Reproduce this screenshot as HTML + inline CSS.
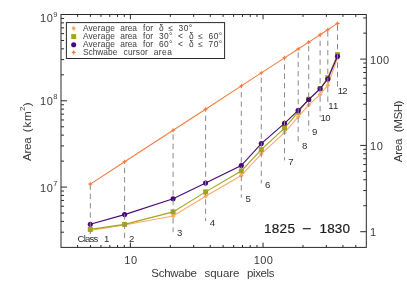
<!DOCTYPE html>
<html><head><meta charset="utf-8"><title>chart</title><style>html,body{margin:0;padding:0;background:#fff}</style></head><body>
<svg width="407" height="291" viewBox="0 0 407 291" style="display:block;will-change:transform;font-family:'Liberation Sans',sans-serif">
<rect width="407" height="291" fill="#fff"/>
<polyline points="90.3,230.5 124.6,225.0 173.1,216.0 205.6,196.3 241.3,175.5 261.3,153.9 284.5,132.7 298.2,116.8 308.7,104.9 320.1,94.6 327.8,85.3 337.5,58.0" fill="none" stroke="#fdab6a" stroke-width="1.1"/>
<path d="M87.89999999999999,230.5L90.3,228.1L92.7,230.5L90.3,232.9Z" fill="#fdab6a"/>
<path d="M122.19999999999999,225.0L124.6,222.6L127.0,225.0L124.6,227.4Z" fill="#fdab6a"/>
<path d="M170.7,216.0L173.1,213.6L175.5,216.0L173.1,218.4Z" fill="#fdab6a"/>
<path d="M203.2,196.3L205.6,193.9L208.0,196.3L205.6,198.70000000000002Z" fill="#fdab6a"/>
<path d="M238.9,175.5L241.3,173.1L243.70000000000002,175.5L241.3,177.9Z" fill="#fdab6a"/>
<path d="M258.90000000000003,153.9L261.3,151.5L263.7,153.9L261.3,156.3Z" fill="#fdab6a"/>
<path d="M282.1,132.7L284.5,130.29999999999998L286.9,132.7L284.5,135.1Z" fill="#fdab6a"/>
<path d="M295.8,116.8L298.2,114.39999999999999L300.59999999999997,116.8L298.2,119.2Z" fill="#fdab6a"/>
<path d="M306.3,104.9L308.7,102.5L311.09999999999997,104.9L308.7,107.30000000000001Z" fill="#fdab6a"/>
<path d="M317.70000000000005,94.6L320.1,92.19999999999999L322.5,94.6L320.1,97.0Z" fill="#fdab6a"/>
<path d="M325.40000000000003,85.3L327.8,82.89999999999999L330.2,85.3L327.8,87.7Z" fill="#fdab6a"/>
<path d="M335.1,58.0L337.5,55.6L339.9,58.0L337.5,60.4Z" fill="#fdab6a"/>
<polyline points="90.3,229.4 124.6,224.4 173.1,211.9 205.6,191.9 241.3,171.0 261.3,149.6 284.5,128.1 298.2,112.2 308.7,99.3 320.1,88.6 327.8,77.8 337.5,54.6" fill="none" stroke="#a5a41c" stroke-width="1.1"/>
<rect x="87.8" y="226.9" width="5.0" height="5.0" fill="#a5a41c"/>
<rect x="122.1" y="221.9" width="5.0" height="5.0" fill="#a5a41c"/>
<rect x="170.6" y="209.4" width="5.0" height="5.0" fill="#a5a41c"/>
<rect x="203.1" y="189.4" width="5.0" height="5.0" fill="#a5a41c"/>
<rect x="238.8" y="168.5" width="5.0" height="5.0" fill="#a5a41c"/>
<rect x="258.8" y="147.1" width="5.0" height="5.0" fill="#a5a41c"/>
<rect x="282.0" y="125.6" width="5.0" height="5.0" fill="#a5a41c"/>
<rect x="295.7" y="109.7" width="5.0" height="5.0" fill="#a5a41c"/>
<rect x="306.2" y="96.8" width="5.0" height="5.0" fill="#a5a41c"/>
<rect x="317.6" y="86.1" width="5.0" height="5.0" fill="#a5a41c"/>
<rect x="325.3" y="75.3" width="5.0" height="5.0" fill="#a5a41c"/>
<rect x="335.0" y="52.1" width="5.0" height="5.0" fill="#a5a41c"/>
<polyline points="90.3,224.3 124.6,214.6 173.1,198.7 205.6,183.0 241.3,165.5 261.3,143.6 284.5,123.3 298.2,110.4 308.7,99.6 320.1,88.8 327.8,79.0 337.5,56.3" fill="none" stroke="#47087a" stroke-width="1.1"/>
<circle cx="90.3" cy="224.3" r="2.55" fill="#47087a"/>
<circle cx="124.6" cy="214.6" r="2.55" fill="#47087a"/>
<circle cx="173.1" cy="198.7" r="2.55" fill="#47087a"/>
<circle cx="205.6" cy="183.0" r="2.55" fill="#47087a"/>
<circle cx="241.3" cy="165.5" r="2.55" fill="#47087a"/>
<circle cx="261.3" cy="143.6" r="2.55" fill="#47087a"/>
<circle cx="284.5" cy="123.3" r="2.55" fill="#47087a"/>
<circle cx="298.2" cy="110.4" r="2.55" fill="#47087a"/>
<circle cx="308.7" cy="99.6" r="2.55" fill="#47087a"/>
<circle cx="320.1" cy="88.8" r="2.55" fill="#47087a"/>
<circle cx="327.8" cy="79.0" r="2.55" fill="#47087a"/>
<circle cx="337.5" cy="56.3" r="2.55" fill="#47087a"/>
<line x1="90.3" y1="184.1" x2="90.3" y2="234.0" stroke="#8a8a8a" stroke-width="1" stroke-dasharray="5.4 3.9" stroke-dashoffset="9.0"/>
<line x1="124.6" y1="161.8" x2="124.6" y2="242.0" stroke="#8a8a8a" stroke-width="1" stroke-dasharray="5.4 3.9" stroke-dashoffset="3.4"/>
<line x1="173.1" y1="130.3" x2="173.1" y2="232.2" stroke="#8a8a8a" stroke-width="1" stroke-dasharray="5.4 3.9" stroke-dashoffset="5.2"/>
<line x1="205.6" y1="109.2" x2="205.6" y2="221.2" stroke="#8a8a8a" stroke-width="1" stroke-dasharray="5.4 3.9" stroke-dashoffset="2.9"/>
<line x1="241.3" y1="85.9" x2="241.3" y2="197.6" stroke="#8a8a8a" stroke-width="1" stroke-dasharray="5.4 3.9" stroke-dashoffset="3.1"/>
<line x1="261.3" y1="72.9" x2="261.3" y2="183.4" stroke="#8a8a8a" stroke-width="1" stroke-dasharray="5.4 3.9" stroke-dashoffset="4.65"/>
<line x1="284.5" y1="57.9" x2="284.5" y2="160.4" stroke="#8a8a8a" stroke-width="1" stroke-dasharray="5.4 3.9" stroke-dashoffset="2.9"/>
<line x1="298.2" y1="49.0" x2="298.2" y2="144.2" stroke="#8a8a8a" stroke-width="1" stroke-dasharray="5.4 3.9" stroke-dashoffset="5.9"/>
<line x1="308.7" y1="42.1" x2="308.7" y2="130.8" stroke="#8a8a8a" stroke-width="1" stroke-dasharray="5.4 3.9" stroke-dashoffset="5.5"/>
<line x1="320.1" y1="34.7" x2="320.1" y2="117.0" stroke="#8a8a8a" stroke-width="1" stroke-dasharray="5.4 3.9" stroke-dashoffset="3.2"/>
<line x1="327.8" y1="29.7" x2="327.8" y2="104.6" stroke="#8a8a8a" stroke-width="1" stroke-dasharray="5.4 3.9" stroke-dashoffset="7.7"/>
<line x1="337.5" y1="23.4" x2="337.5" y2="89.0" stroke="#8a8a8a" stroke-width="1" stroke-dasharray="5.4 3.9" stroke-dashoffset="7.4"/>
<polyline points="90.3,184.1 124.6,161.8 173.1,130.3 205.6,109.2 241.3,85.9 261.3,72.9 284.5,57.9 298.2,49.0 308.7,42.1 320.1,34.7 327.8,29.7 337.5,23.4" fill="none" stroke="#f97b3c" stroke-width="1.1"/>
<path d="M87.8,184.1L89.5,183.29999999999998L90.3,181.6L91.1,183.29999999999998L92.8,184.1L91.1,184.9L90.3,186.6L89.5,184.9Z" fill="#f97b3c"/>
<path d="M122.1,161.805L123.8,161.005L124.6,159.305L125.39999999999999,161.005L127.1,161.805L125.39999999999999,162.60500000000002L124.6,164.305L123.8,162.60500000000002Z" fill="#f97b3c"/>
<path d="M170.6,130.28L172.29999999999998,129.48L173.1,127.78L173.9,129.48L175.6,130.28L173.9,131.08L173.1,132.78L172.29999999999998,131.08Z" fill="#f97b3c"/>
<path d="M203.1,109.15499999999999L204.79999999999998,108.35499999999999L205.6,106.65499999999999L206.4,108.35499999999999L208.1,109.15499999999999L206.4,109.95499999999998L205.6,111.65499999999999L204.79999999999998,109.95499999999998Z" fill="#f97b3c"/>
<path d="M238.8,85.94999999999999L240.5,85.14999999999999L241.3,83.44999999999999L242.10000000000002,85.14999999999999L243.8,85.94999999999999L242.10000000000002,86.74999999999999L241.3,88.44999999999999L240.5,86.74999999999999Z" fill="#f97b3c"/>
<path d="M258.8,72.94999999999999L260.5,72.14999999999999L261.3,70.44999999999999L262.1,72.14999999999999L263.8,72.94999999999999L262.1,73.74999999999999L261.3,75.44999999999999L260.5,73.74999999999999Z" fill="#f97b3c"/>
<path d="M282.0,57.86999999999999L283.7,57.06999999999999L284.5,55.36999999999999L285.3,57.06999999999999L287.0,57.86999999999999L285.3,58.66999999999999L284.5,60.36999999999999L283.7,58.66999999999999Z" fill="#f97b3c"/>
<path d="M295.7,48.965L297.4,48.165000000000006L298.2,46.465L299.0,48.165000000000006L300.7,48.965L299.0,49.765L298.2,51.465L297.4,49.765Z" fill="#f97b3c"/>
<path d="M306.2,42.140000000000015L307.9,41.34000000000002L308.7,39.640000000000015L309.5,41.34000000000002L311.2,42.140000000000015L309.5,42.94000000000001L308.7,44.640000000000015L307.9,42.94000000000001Z" fill="#f97b3c"/>
<path d="M317.6,34.72999999999999L319.3,33.92999999999999L320.1,32.22999999999999L320.90000000000003,33.92999999999999L322.6,34.72999999999999L320.90000000000003,35.52999999999999L320.1,37.22999999999999L319.3,35.52999999999999Z" fill="#f97b3c"/>
<path d="M325.3,29.724999999999994L327.0,28.924999999999994L327.8,27.224999999999994L328.6,28.924999999999994L330.3,29.724999999999994L328.6,30.524999999999995L327.8,32.224999999999994L327.0,30.524999999999995Z" fill="#f97b3c"/>
<path d="M335.0,23.419999999999987L336.7,22.619999999999987L337.5,20.919999999999987L338.3,22.619999999999987L340.0,23.419999999999987L338.3,24.219999999999988L337.5,25.919999999999987L336.7,24.219999999999988Z" fill="#f97b3c"/>
<rect x="61.0" y="14.5" width="305.3" height="232.9" fill="none" stroke="#2a2a2a" stroke-width="1"/>
<path d="M77.58,247.4v-2.4M77.58,14.5v2.4M90.43,247.4v-2.4M90.43,14.5v2.4M100.94,247.4v-2.4M100.94,14.5v2.4M109.82,247.4v-2.4M109.82,14.5v2.4M117.52,247.4v-2.4M117.52,14.5v2.4M124.30,247.4v-2.4M124.30,14.5v2.4M130.38,247.4v-4.8M130.38,14.5v4.8M170.32,247.4v-2.4M170.32,14.5v2.4M193.68,247.4v-2.4M193.68,14.5v2.4M210.26,247.4v-2.4M210.26,14.5v2.4M223.11,247.4v-2.4M223.11,14.5v2.4M233.62,247.4v-2.4M233.62,14.5v2.4M242.50,247.4v-2.4M242.50,14.5v2.4M250.20,247.4v-2.4M250.20,14.5v2.4M256.98,247.4v-2.4M256.98,14.5v2.4M263.06,247.4v-4.8M263.06,14.5v4.8M303.00,247.4v-2.4M303.00,14.5v2.4M326.36,247.4v-2.4M326.36,14.5v2.4M342.94,247.4v-2.4M342.94,14.5v2.4M355.79,247.4v-2.4M355.79,14.5v2.4M61.0,232.20h3.05M61.0,221.42h3.05M61.0,213.06h3.05M61.0,206.23h3.05M61.0,200.45h3.05M61.0,195.45h3.05M61.0,191.03h3.05M61.0,187.08h6.1M61.0,161.11h3.05M61.0,145.91h3.05M61.0,135.13h3.05M61.0,126.77h3.05M61.0,119.94h3.05M61.0,114.16h3.05M61.0,109.15h3.05M61.0,104.74h3.05M61.0,100.79h6.1M61.0,74.82h3.05M61.0,59.62h3.05M61.0,48.84h3.05M61.0,40.48h3.05M61.0,33.64h3.05M61.0,27.87h3.05M61.0,22.86h3.05M61.0,18.45h3.05M366.3,231.71h-6.1M366.3,205.73h-3.05M366.3,190.54h-3.05M366.3,179.76h-3.05M366.3,171.39h-3.05M366.3,164.56h-3.05M366.3,158.78h-3.05M366.3,153.78h-3.05M366.3,149.36h-3.05M366.3,145.42h-6.1M366.3,119.44h-3.05M366.3,104.24h-3.05M366.3,93.46h-3.05M366.3,85.10h-3.05M366.3,78.27h-3.05M366.3,72.49h-3.05M366.3,67.49h-3.05M366.3,63.07h-3.05M366.3,59.12h-6.1M366.3,33.15h-3.05M366.3,17.95h-3.05" stroke="#2a2a2a" stroke-width="1" fill="none"/>
<rect x="66.4" y="22.6" width="158.2" height="35.9" fill="#fff" stroke="#2a2a2a" stroke-width="1"/>
<path d="M71.3,28.3L73.7,25.900000000000002L76.10000000000001,28.3L73.7,30.7Z" fill="#fdab6a"/>
<rect x="71.2" y="34.1" width="5.0" height="5.0" fill="#a5a41c"/>
<circle cx="73.7" cy="44.7" r="2.55" fill="#47087a"/>
<path d="M71.2,52.4L72.9,51.6L73.7,49.9L74.5,51.6L76.2,52.4L74.5,53.199999999999996L73.7,54.9L72.9,53.199999999999996Z" fill="#f97b3c"/>
<text x="82.9" y="31.0" font-size="8.4" fill="#3a3a3a" text-anchor="start" textLength="32.1" lengthAdjust="spacing">Average</text>
<text x="120.3" y="31.0" font-size="8.4" fill="#3a3a3a" text-anchor="start" textLength="16.7" lengthAdjust="spacing">area</text>
<text x="142.9" y="31.0" font-size="8.4" fill="#3a3a3a" text-anchor="start" textLength="10.2" lengthAdjust="spacing">for</text>
<text x="159" y="31.0" font-size="8.4" fill="#3a3a3a" text-anchor="start" textLength="3.7" lengthAdjust="spacing">δ</text>
<text x="168.6" y="31.0" font-size="8.4" fill="#3a3a3a" text-anchor="start" textLength="5.1" lengthAdjust="spacing">≤</text>
<text x="178.6" y="31.0" font-size="8.4" fill="#3a3a3a" text-anchor="start" textLength="13.6" lengthAdjust="spacing">30°</text>
<text x="82.9" y="39.0" font-size="8.4" fill="#3a3a3a" text-anchor="start" textLength="32.1" lengthAdjust="spacing">Average</text>
<text x="120.3" y="39.0" font-size="8.4" fill="#3a3a3a" text-anchor="start" textLength="16.7" lengthAdjust="spacing">area</text>
<text x="142.9" y="39.0" font-size="8.4" fill="#3a3a3a" text-anchor="start" textLength="10.2" lengthAdjust="spacing">for</text>
<text x="159" y="39.0" font-size="8.4" fill="#3a3a3a" text-anchor="start" textLength="13.3" lengthAdjust="spacing">30°</text>
<text x="177.9" y="39.0" font-size="8.4" fill="#3a3a3a" text-anchor="start" textLength="5.4" lengthAdjust="spacing">&lt;</text>
<text x="189" y="39.0" font-size="8.4" fill="#3a3a3a" text-anchor="start" textLength="3.7" lengthAdjust="spacing">δ</text>
<text x="198.3" y="39.0" font-size="8.4" fill="#3a3a3a" text-anchor="start" textLength="4.9" lengthAdjust="spacing">≤</text>
<text x="208.6" y="39.0" font-size="8.4" fill="#3a3a3a" text-anchor="start" textLength="13.5" lengthAdjust="spacing">60°</text>
<text x="82.9" y="46.95" font-size="8.4" fill="#3a3a3a" text-anchor="start" textLength="32.1" lengthAdjust="spacing">Average</text>
<text x="120.3" y="46.95" font-size="8.4" fill="#3a3a3a" text-anchor="start" textLength="16.7" lengthAdjust="spacing">area</text>
<text x="142.9" y="46.95" font-size="8.4" fill="#3a3a3a" text-anchor="start" textLength="10.2" lengthAdjust="spacing">for</text>
<text x="159" y="46.95" font-size="8.4" fill="#3a3a3a" text-anchor="start" textLength="13.3" lengthAdjust="spacing">60°</text>
<text x="177.9" y="46.95" font-size="8.4" fill="#3a3a3a" text-anchor="start" textLength="5.4" lengthAdjust="spacing">&lt;</text>
<text x="189" y="46.95" font-size="8.4" fill="#3a3a3a" text-anchor="start" textLength="3.7" lengthAdjust="spacing">δ</text>
<text x="198.3" y="46.95" font-size="8.4" fill="#3a3a3a" text-anchor="start" textLength="4.9" lengthAdjust="spacing">≤</text>
<text x="208.6" y="46.95" font-size="8.4" fill="#3a3a3a" text-anchor="start" textLength="13.5" lengthAdjust="spacing">70°</text>
<text x="82.9" y="54.9" font-size="8.4" fill="#3a3a3a" text-anchor="start" textLength="34.4" lengthAdjust="spacing">Schwabe</text>
<text x="123.6" y="54.9" font-size="8.4" fill="#3a3a3a" text-anchor="start" textLength="24.2" lengthAdjust="spacing">cursor</text>
<text x="153.7" y="54.9" font-size="8.4" fill="#3a3a3a" text-anchor="start" textLength="18.1" lengthAdjust="spacing">area</text>
<text x="77.6" y="242.15" font-size="9.6" fill="#2e2e2e" textLength="20.8" lengthAdjust="spacing">Class</text>
<text x="104.0" y="242.15" font-size="9.6" fill="#2e2e2e">1</text>
<text x="129.0" y="242.15" font-size="9.6" fill="#2e2e2e">2</text>
<text x="177.1" y="236.35" font-size="9.6" fill="#2e2e2e">3</text>
<text x="209.79999999999998" y="225.65" font-size="9.6" fill="#2e2e2e">4</text>
<text x="245.4" y="202.25" font-size="9.6" fill="#2e2e2e">5</text>
<text x="264.90000000000003" y="187.65" font-size="9.6" fill="#2e2e2e">6</text>
<text x="288.20000000000005" y="165.25" font-size="9.6" fill="#2e2e2e">7</text>
<text x="302.1" y="148.75" font-size="9.6" fill="#2e2e2e">8</text>
<text x="312.0" y="135.15" font-size="9.6" fill="#2e2e2e">9</text>
<text x="320.6" y="121.44999999999999" font-size="9.6" fill="#2e2e2e" textLength="10.0" lengthAdjust="spacing">10</text>
<text x="328.3" y="108.85" font-size="9.6" fill="#2e2e2e">11</text>
<text x="337.8" y="93.55" font-size="9.6" fill="#2e2e2e" textLength="9.9" lengthAdjust="spacing">12</text>
<text x="263.9" y="233.1" font-size="13.5" fill="#3a3a3a" text-anchor="start" textLength="31.0" lengthAdjust="spacing" style="fill:#1c1c1c;stroke:#1c1c1c;stroke-width:0.2">1825</text>
<line x1="302.8" y1="228.7" x2="310.8" y2="228.7" stroke="#222" stroke-width="1.2"/>
<text x="319.6" y="233.1" font-size="13.5" fill="#3a3a3a" text-anchor="start" textLength="30.3" lengthAdjust="spacing" style="fill:#1c1c1c;stroke:#1c1c1c;stroke-width:0.2">1830</text>
<text x="124.3" y="263.7" font-size="11" fill="#3a3a3a" text-anchor="start" textLength="12.8" lengthAdjust="spacing">10</text>
<text x="253.8" y="263.7" font-size="11" fill="#3a3a3a" text-anchor="start" textLength="19.0" lengthAdjust="spacing">100</text>
<text x="40.1" y="22.3" font-size="11" fill="#3a3a3a" text-anchor="start" textLength="12.8" lengthAdjust="spacing">10</text>
<text x="53.2" y="16.700000000000003" font-size="7.5" fill="#3a3a3a" text-anchor="start">9</text>
<text x="40.1" y="105.0" font-size="11" fill="#3a3a3a" text-anchor="start" textLength="12.8" lengthAdjust="spacing">10</text>
<text x="53.2" y="99.4" font-size="7.5" fill="#3a3a3a" text-anchor="start">8</text>
<text x="40.1" y="191.7" font-size="11" fill="#3a3a3a" text-anchor="start" textLength="12.8" lengthAdjust="spacing">10</text>
<text x="53.2" y="186.1" font-size="7.5" fill="#3a3a3a" text-anchor="start">7</text>
<text x="370.0" y="63.6" font-size="11" fill="#3a3a3a" text-anchor="start" textLength="19.2" lengthAdjust="spacing">100</text>
<text x="370.0" y="149.7" font-size="11" fill="#3a3a3a" text-anchor="start" textLength="12.9" lengthAdjust="spacing">10</text>
<text x="370.0" y="235.6" font-size="11" fill="#3a3a3a" text-anchor="start">1</text>
<text x="151.3" y="276.7" font-size="11.5" fill="#3a3a3a" text-anchor="start" textLength="45.6" lengthAdjust="spacing">Schwabe</text>
<text x="204.5" y="276.7" font-size="11.5" fill="#3a3a3a" text-anchor="start" textLength="35.0" lengthAdjust="spacing">square</text>
<text x="246.9" y="276.7" font-size="11.5" fill="#3a3a3a" text-anchor="start" textLength="27.6" lengthAdjust="spacing">pixels</text>
<text transform="translate(30.6,161) rotate(-90)" font-size="11.6" fill="#3a3a3a" textLength="23.6" lengthAdjust="spacing">Area</text>
<text transform="translate(30.6,132.2) rotate(-90)" font-size="11.6" fill="#3a3a3a" textLength="20.8" lengthAdjust="spacing">(km</text>
<text transform="translate(25.1,111.0) rotate(-90)" font-size="8" fill="#3a3a3a">2</text>
<text transform="translate(30.6,106.2) rotate(-90)" font-size="11.6" fill="#3a3a3a">)</text>
<text transform="translate(402.2,162.2) rotate(-90)" font-size="11.6" fill="#3a3a3a" textLength="23.6" lengthAdjust="spacing">Area</text>
<text transform="translate(402.2,132.2) rotate(-90)" font-size="11.6" fill="#3a3a3a" textLength="31.6" lengthAdjust="spacing">(MSH)</text>
</svg>
</body></html>
